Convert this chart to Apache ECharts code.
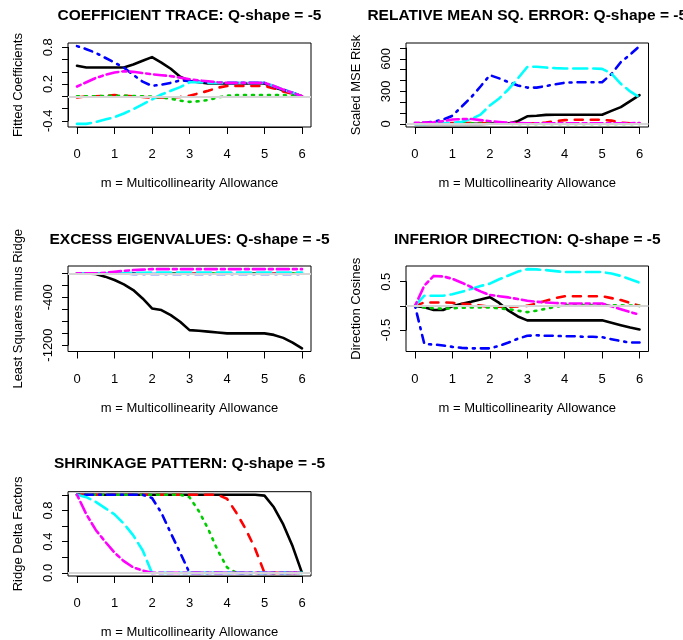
<!DOCTYPE html>
<html>
<head>
<meta charset="utf-8">
<script src="https://cdn.jsdelivr.net/npm/echarts@6/dist/echarts.min.js"></script>
<style>
  html, body { margin: 0; padding: 0; background: #ffffff; }
  #chart { width: 683px; height: 640px; }
</style>
</head>
<body>
<div id="chart"></div>
<script>
// Ridge trace for m = multicollinearity allowance, six coefficients per panel
const mAllowance = [0, 0.25, 0.5, 0.75, 1, 1.25, 1.5, 1.75, 2, 2.25, 2.5, 2.75, 3,
                    3.25, 3.5, 3.75, 4, 4.25, 4.5, 4.75, 5, 5.25, 5.5, 5.75, 6];
const xTicks = [0, 1, 2, 3, 4, 5, 6];

// Fitted coefficients
const coefBlack   = [0.50, 0.47, 0.47, 0.47, 0.47, 0.47, 0.52, 0.58, 0.64, 0.55, 0.45, 0.32, 0.25, 0.23, 0.21, 0.21, 0.21, 0.21, 0.21, 0.21, 0.21, 0.15, 0.10, 0.05, 0.00];
const coefRed     = [-0.02, 0.00, 0.00, 0.01, 0.02, 0.01, 0.00, -0.01, -0.02, -0.02, -0.02, -0.01, 0.01, 0.05, 0.09, 0.14, 0.17, 0.17, 0.17, 0.17, 0.17, 0.13, 0.08, 0.04, 0.00];
const coefGreen   = [0.00, 0.00, 0.00, 0.005, 0.01, 0.01, 0.005, 0.00, -0.005, -0.02, -0.04, -0.07, -0.09, -0.08, -0.06, -0.02, 0.01, 0.02, 0.02, 0.02, 0.02, 0.02, 0.02, 0.01, 0.00];
const coefBlue    = [0.82, 0.77, 0.71, 0.63, 0.55, 0.47, 0.35, 0.24, 0.17, 0.19, 0.22, 0.26, 0.25, 0.24, 0.23, 0.22, 0.22, 0.22, 0.22, 0.22, 0.22, 0.16, 0.11, 0.06, 0.00];
const coefCyan    = [-0.45, -0.45, -0.42, -0.38, -0.34, -0.28, -0.21, -0.13, -0.05, 0.03, 0.09, 0.15, 0.23, 0.23, 0.22, 0.22, 0.22, 0.22, 0.22, 0.22, 0.22, 0.17, 0.11, 0.06, 0.00];
const coefMagenta = [0.16, 0.23, 0.30, 0.35, 0.39, 0.41, 0.40, 0.38, 0.36, 0.345, 0.33, 0.305, 0.28, 0.26, 0.245, 0.23, 0.22, 0.22, 0.22, 0.22, 0.22, 0.17, 0.11, 0.06, 0.00];
const coefTickLabels = ['-0.4', '0.2', '0.8'];

// Scaled MSE risk
const mseBlack   = [0, 0, 0, 0, 0, 0, 0, 0, 2, 2, 3, 25, 70, 75, 83, 85, 85, 85, 85, 85, 85, 120, 155, 210, 265];
const mseRed     = [5, 5, 5, 5, 8, 8, 8, 8, 5, 3, 2, 2, 2, 5, 12, 25, 35, 38, 38, 38, 38, 30, 12, 5, 3];
const mseGreen   = [2, 2, 3, 4, 5, 5, 5, 4, 3, 2, 1, 0, 0, 0, 0, 0, 0, 0, 0, 0, 0, 0, 0, 0, 0];
const mseBlue    = [5, 10, 20, 40, 75, 160, 245, 345, 450, 420, 385, 355, 335, 335, 350, 365, 380, 383, 385, 385, 385, 460, 570, 640, 718];
const mseCyan    = [0, 0, 3, 5, 10, 20, 45, 85, 170, 235, 320, 420, 525, 528, 520, 515, 512, 512, 512, 512, 508, 465, 370, 300, 245];
const mseMagenta = [10, 12, 15, 25, 40, 45, 45, 35, 25, 18, 12, 8, 5, 5, 5, 5, 5, 5, 5, 5, 5, 5, 5, 6, 8];
const mseTickLabels = ['0', '300', '600'];

// Least squares minus ridge eigenvalues
const eigBlack   = [0, 0, -10, -55, -112, -185, -280, -420, -587, -615, -700, -810, -950, -962, -975, -990, -1005, -1005, -1005, -1005, -1005, -1030, -1080, -1160, -1255];
const eigRed     = [0, 0, 0, -1, -2, -3, -4, -5, -5, -5, -5, -5, -5, -5, -5, -5, -5, -5, -5, -5, -5, -5, -5, -5, -5];
const eigGreen   = [0, 0, 0, -1, -2, -3, -3, -4, -4, -4, -4, -4, -4, -4, -4, -4, -4, -4, -4, -4, -4, -4, -4, -4, -4];
const eigBlue    = [0, 0, 0, -2, -4, -6, -8, -10, -12, -12, -12, -12, -12, -12, -12, -12, -12, -12, -12, -12, -12, -12, -12, -12, -12];
const eigCyan    = [0, 0, 0, 2, 4, 6, 8, 10, 12, 12, 12, 12, 12, 12, 12, 12, 12, 12, 12, 12, 12, 12, 12, 12, 12];
const eigMagenta = [0, 0, 0, 10, 25, 42, 55, 63, 70, 70, 70, 70, 70, 70, 70, 70, 70, 70, 70, 70, 70, 70, 70, 70, 70];
const eigTickLabels = ['-1200', '-400'];

// Direction cosines of the inferior direction
const dirBlack   = [0, -0.03, -0.085, -0.085, -0.01, 0.045, 0.085, 0.13, 0.18, 0.06, -0.10, -0.22, -0.30, -0.30, -0.30, -0.30, -0.30, -0.30, -0.30, -0.30, -0.30, -0.35, -0.40, -0.45, -0.49];
const dirRed     = [0, 0.07, 0.07, 0.07, 0.065, 0.045, 0.03, 0.005, -0.02, -0.02, -0.02, -0.01, 0, 0.05, 0.105, 0.16, 0.20, 0.20, 0.20, 0.20, 0.20, 0.16, 0.12, 0.06, 0];
const dirGreen   = [0, -0.035, -0.05, -0.06, -0.05, -0.04, -0.035, -0.035, -0.035, -0.05, -0.07, -0.10, -0.13, -0.10, -0.06, -0.02, 0.015, 0.015, 0.015, 0.015, 0.015, 0.01, 0.01, 0.005, 0];
const dirBlue    = [0, -0.79, -0.80, -0.82, -0.85, -0.87, -0.88, -0.88, -0.88, -0.83, -0.76, -0.68, -0.62, -0.61, -0.62, -0.62, -0.63, -0.63, -0.64, -0.64, -0.65, -0.69, -0.73, -0.76, -0.76];
const dirCyan    = [0, 0.21, 0.21, 0.21, 0.24, 0.29, 0.35, 0.41, 0.46, 0.55, 0.63, 0.71, 0.76, 0.755, 0.74, 0.72, 0.70, 0.70, 0.70, 0.70, 0.70, 0.67, 0.62, 0.55, 0.48];
const dirMagenta = [0, 0.42, 0.62, 0.61, 0.56, 0.48, 0.39, 0.30, 0.225, 0.20, 0.175, 0.14, 0.105, 0.085, 0.07, 0.06, 0.05, 0.05, 0.05, 0.05, 0.05, -0.01, -0.07, -0.13, -0.18];
const dirTickLabels = ['-0.5', '0.5'];

// Ridge delta (shrinkage) factors
const shrBlack   = [1, 1, 1, 1, 1, 1, 1, 1, 1, 1, 1, 1, 1, 1, 1, 1, 1, 1, 1, 1, 0.99, 0.84, 0.62, 0.34, 0];
const shrRed     = [1, 1, 1, 1, 1, 1, 1, 1, 1, 1, 1, 1, 1, 1, 1, 1, 0.95, 0.77, 0.56, 0.31, 0, 0, 0, 0, 0];
const shrGreen   = [1, 1, 1, 1, 1, 1, 1, 1, 1, 1, 1, 1, 0.97, 0.79, 0.56, 0.29, 0.07, 0, 0, 0, 0, 0, 0, 0, 0];
const shrBlue    = [1, 1, 1, 1, 1, 1, 1, 1, 0.96, 0.77, 0.51, 0.26, 0, 0, 0, 0, 0, 0, 0, 0, 0, 0, 0, 0, 0];
const shrCyan    = [1, 0.97, 0.91, 0.83, 0.75, 0.63, 0.48, 0.29, 0, 0, 0, 0, 0, 0, 0, 0, 0, 0, 0, 0, 0, 0, 0, 0, 0];
const shrMagenta = [1, 0.75, 0.55, 0.40, 0.26, 0.15, 0.07, 0.03, 0, 0, 0, 0, 0, 0, 0, 0, 0, 0, 0, 0, 0, 0, 0, 0, 0];
const shrTickLabels = ['0.0', '0.4', '0.8'];

const xLabel = 'm = Multicollinearity Allowance';

// Line colours and dash patterns: solid, dashed, dotted, dot-dash, long dash, two-dash
const traceColors = ['#000000', '#ff0000', '#00cd00', '#0000ff', '#00ffff', '#ff00ff'];
const traceDashes = ['solid', [8, 8], [2, 6], [2, 6, 8, 6], [14, 6], [4, 4, 12, 4]];

const FONT = '"Liberation Sans", Arial, Helvetica, sans-serif';

// Panel layout: plot box [left, top, right, bottom] and y tick sequence
const panels = [
  { title: 'COEFFICIENT TRACE: Q-shape = -5', ylab: 'Fitted Coefficients',
    traces: [coefBlack, coefRed, coefGreen, coefBlue, coefCyan, coefMagenta],
    ticks: { min: -0.4, max: 0.8, step: 0.2 }, tickLabels: coefTickLabels,
    box: [68, 43, 311, 127], titleY: 7.5 },
  { title: 'RELATIVE MEAN SQ. ERROR: Q-shape = -5', ylab: 'Scaled MSE Risk',
    traces: [mseBlack, mseRed, mseGreen, mseBlue, mseCyan, mseMagenta],
    ticks: { min: 0, max: 700, step: 100 }, tickLabels: mseTickLabels,
    box: [406, 43, 648.5, 127], titleY: 7.5 },
  { title: 'EXCESS EIGENVALUES: Q-shape = -5', ylab: 'Least Squares minus Ridge',
    traces: [eigBlack, eigRed, eigGreen, eigBlue, eigCyan, eigMagenta],
    ticks: { min: -1200, max: 0, step: 200 }, tickLabels: eigTickLabels,
    box: [68, 266, 311, 351.5], titleY: 231.5 },
  { title: 'INFERIOR DIRECTION: Q-shape = -5', ylab: 'Direction Cosines',
    traces: [dirBlack, dirRed, dirGreen, dirBlue, dirCyan, dirMagenta],
    ticks: { min: -0.5, max: 0.5, step: 0.5 }, tickLabels: dirTickLabels,
    box: [406, 266, 648.5, 351.5], titleY: 231.5 },
  { title: 'SHRINKAGE PATTERN: Q-shape = -5', ylab: 'Ridge Delta Factors',
    traces: [shrBlack, shrRed, shrGreen, shrBlue, shrCyan, shrMagenta],
    ticks: { min: 0, max: 1, step: 0.2 }, tickLabels: shrTickLabels,
    box: [68, 491.7, 311, 576], titleY: 455.5 }
];

const grid = [], xAxis = [], yAxis = [], series = [], title = [];
const hidden = { show: false };
const textBase = { color: '#000', fontFamily: FONT, fontSize: 13 };

panels.forEach(function (p) {
  const L = p.box[0], T = p.box[1], W = p.box[2] - p.box[0], H = p.box[3] - p.box[1];

  // data range extended by 4% on each side
  let lo = Infinity, hi = -Infinity;
  p.traces.forEach(function (t) { t.forEach(function (v) { lo = Math.min(lo, v); hi = Math.max(hi, v); }); });
  const yPad = (hi - lo) * 0.04, yMin = lo - yPad, yMax = hi + yPad;
  const mLo = mAllowance[0], mHi = mAllowance[mAllowance.length - 1];
  const xPad = (mHi - mLo) * 0.04, xMin = mLo - xPad, xMax = mHi + xPad;

  const g = grid.length;
  // plot box
  grid.push({ left: L, top: T, width: W, height: H, show: true, borderColor: '#000', borderWidth: 1,
              backgroundColor: 'transparent', containLabel: false, outerBoundsMode: 'none' });
  // x axis strip covering the tick range only
  const xFrom = xTicks[0], xTo = xTicks[xTicks.length - 1];
  grid.push({ left: L + (xFrom - xMin) / (xMax - xMin) * W, width: (xTo - xFrom) / (xMax - xMin) * W,
              top: T, height: H, containLabel: false, outerBoundsMode: 'none' });
  // y axis strip covering the tick range only
  grid.push({ left: L, width: W, top: T + (yMax - p.ticks.max) / (yMax - yMin) * H,
              height: (p.ticks.max - p.ticks.min) / (yMax - yMin) * H, containLabel: false, outerBoundsMode: 'none' });

  const noParts = { axisLine: hidden, axisTick: hidden, axisLabel: hidden, splitLine: hidden };
  xAxis.push(Object.assign({ gridIndex: g, type: 'value', min: xMin, max: xMax, name: xLabel,
    nameLocation: 'middle', nameGap: 50, nameTextStyle: textBase }, noParts));
  yAxis.push(Object.assign({ gridIndex: g, type: 'value', min: yMin, max: yMax, name: p.ylab,
    nameLocation: 'middle', nameGap: 43, nameTextStyle: textBase }, noParts));

  xAxis.push({ gridIndex: g + 1, type: 'value', min: xFrom, max: xTo, interval: 1, position: 'bottom',
    axisLine: { show: true, lineStyle: { color: '#000', width: 1 } },
    axisTick: { show: true, length: 7, lineStyle: { color: '#000', width: 1 } },
    axisLabel: Object.assign({ margin: 21 }, textBase), splitLine: hidden });
  yAxis.push({ gridIndex: g + 1, type: 'value', show: false });

  const tickLabels = p.tickLabels;
  xAxis.push({ gridIndex: g + 2, type: 'value', show: false });
  yAxis.push({ gridIndex: g + 2, type: 'value', min: p.ticks.min, max: p.ticks.max, interval: p.ticks.step,
    position: 'left', offset: 7,
    axisLine: { show: true, lineStyle: { color: '#000', width: 1 } },
    axisTick: { show: true, length: 6, lineStyle: { color: '#000', width: 1 } },
    axisLabel: Object.assign({ rotate: 90, margin: 6, showMinLabel: true, showMaxLabel: true, hideOverlap: false,
      formatter: function (v) {
        for (let k = 0; k < tickLabels.length; k++) {
          if (Math.abs(parseFloat(tickLabels[k]) - v) < 1e-9) return tickLabels[k];
        }
        return '';
      } }, textBase),
    splitLine: hidden });

  // zero reference line
  series.push({ type: 'line', xAxisIndex: g, yAxisIndex: g, data: [], silent: true, z: 1,
    markLine: { silent: true, symbol: 'none', label: { show: false }, animation: false,
      lineStyle: { color: '#d6d6d6', width: 2, type: 'solid' }, data: [{ yAxis: 0 }] } });

  p.traces.forEach(function (t, j) {
    series.push({ type: 'line', xAxisIndex: g, yAxisIndex: g, z: 2, symbol: 'none', silent: true,
      data: mAllowance.map(function (m, k) { return [m, t[k]]; }),
      lineStyle: { color: traceColors[j], width: 2.6, type: traceDashes[j], cap: 'round', join: 'round' } });
  });

  title.push({ text: p.title, left: L + W / 2, top: p.titleY, textAlign: 'center', padding: 0,
    textStyle: { color: '#000', fontFamily: FONT, fontSize: 15.5, fontWeight: 'bold' } });
});

const chart = echarts.init(document.getElementById('chart'), null, { renderer: 'canvas' });
chart.setOption({
  animation: false,
  backgroundColor: '#ffffff',
  title: title,
  grid: grid,
  xAxis: xAxis,
  yAxis: yAxis,
  series: series
});
</script>
</body>
</html>
